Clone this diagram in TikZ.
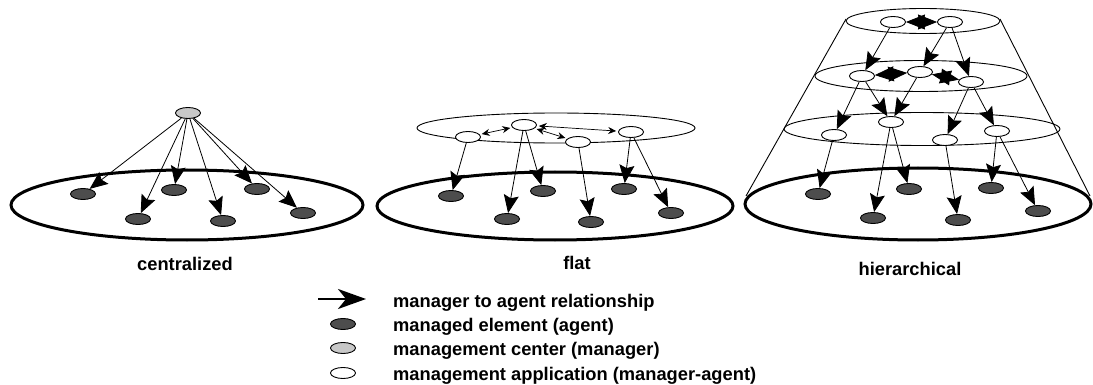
\documentclass[tikz,border=0pt]{standalone}
\usepackage{fontspec}
\setmainfont{Liberation Sans}
\usetikzlibrary{arrows.meta,shapes.geometric}
\definecolor{agentfill}{RGB}{77,77,77}
\definecolor{mgrfill}{RGB}{200,200,200}
\begin{document}
\begin{tikzpicture}[x=1pt,y=-1pt,
  elem/.style={ellipse,draw,line width=0.9pt,minimum width=25pt,minimum height=11pt,inner sep=0pt},
  agent/.style={elem,fill=agentfill},
  manager/.style={elem,fill=mgrfill},
  mapp/.style={elem,fill=white},
  rel/.style={line width=0.8pt,-{Stealth[length=18pt,width=15pt,inset=3pt]}},
  peer/.style={line width=0.7pt,{Stealth[length=8pt,width=7pt]}-{Stealth[length=8pt,width=7pt]},shorten <=2pt,shorten >=2pt},
  bigpeer/.style={line width=0.8pt,{Stealth[length=19pt,width=15pt,inset=1pt]}-{Stealth[length=19pt,width=15pt,inset=1pt]}},
  mdomain/.style={line width=3pt},
  mlayer/.style={line width=0.9pt},
  lbl/.style={font=\fontsize{18.3}{20}\selectfont\bfseries,inner sep=0pt}
]
\useasboundingbox (0,0) rectangle (1093,385);

% ---------- centralized ----------
\draw[mdomain] (187,205) ellipse [x radius=176pt, y radius=35pt];
\node[manager] (cm) at (188,113) {};
\node[agent] (c1) at (83,194) {};
\node[agent] (c2) at (138,219) {};
\node[agent] (c3) at (174,190) {};
\node[agent] (c4) at (223,221) {};
\node[agent] (c5) at (257,189) {};
\node[agent] (c6) at (303,213) {};
\foreach \a in {c1,c2,c3,c4,c5,c6} \draw[rel] (cm) -- (\a);
\node[lbl,anchor=base] (lc) at (185,270) {centralized};

% ---------- flat ----------
\draw[mdomain] (555,206) ellipse [x radius=178pt, y radius=34pt];
\draw[mlayer] (556,128) ellipse [x radius=139pt, y radius=15pt];
\node[mapp] (m1) at (468,137) {};
\node[mapp] (m2) at (524,125) {};
\node[mapp] (m3) at (578,142) {};
\node[mapp] (m4) at (631,132) {};
\node[agent] (f1) at (451,196) {};
\node[agent] (f2) at (507,219) {};
\node[agent] (f3) at (543,191) {};
\node[agent] (f4) at (591,222) {};
\node[agent] (f5) at (624,189) {};
\node[agent] (f6) at (671,213) {};
\draw[rel] (m1) -- (f1);
\draw[rel] (m2) -- (f2);
\draw[rel] (m2) -- (f3);
\draw[rel] (m3) -- (f4);
\draw[rel] (m4) -- (f5);
\draw[rel] (m4) -- (f6);
\draw[peer] (m1) -- (m2);
\draw[peer] (m2) -- (m3);
\draw[peer] (m2) -- (m4);
\node[lbl,anchor=base] (lf) at (577,269) {flat};

% ---------- hierarchical ----------
\draw[mlayer] (846,19) -- (746,196);
\draw[mlayer] (1000,19) -- (1090,196);
\draw[mlayer] (923,21) ellipse [x radius=77pt, y radius=12.5pt];
\draw[mlayer] (921,76) ellipse [x radius=106pt, y radius=15.5pt];
\draw[mlayer] (922,129) ellipse [x radius=138pt, y radius=16.5pt];
\draw[mdomain] (918,204) ellipse [x radius=173pt, y radius=36pt];
\node[mapp] (t1) at (893,22) {};
\node[mapp] (t2) at (950,22) {};
\node[mapp] (n1) at (862,76) {};
\node[mapp] (n2) at (920,72) {};
\node[mapp] (n3) at (971,82) {};
\node[mapp] (l1) at (834,135) {};
\node[mapp] (l2) at (891,122) {};
\node[mapp] (l3) at (945,140) {};
\node[mapp] (l4) at (997,131) {};
\node[agent] (h1) at (818,194) {};
\node[agent] (h2) at (873,218) {};
\node[agent] (h3) at (909,189) {};
\node[agent] (h4) at (958,220) {};
\node[agent] (h5) at (991,188) {};
\node[agent] (h6) at (1038,211) {};
\draw[bigpeer] (t1) -- (t2);
\draw[bigpeer] (n1) -- (n2);
\draw[bigpeer] (n2) -- (n3);
\draw[rel] (t1) -- (n1);
\draw[rel] (t2) -- (n2);
\draw[rel] (t2) -- (n3);
\draw[rel] (n1) -- (l1);
\draw[rel] (n1) -- (l2);
\draw[rel] (n2) -- (l2);
\draw[rel] (n3) -- (l3);
\draw[rel] (n3) -- (l4);
\draw[rel] (l1) -- (h1);
\draw[rel] (l2) -- (h2);
\draw[rel] (l2) -- (h3);
\draw[rel] (l3) -- (h4);
\draw[rel] (l4) -- (h5);
\draw[rel] (l4) -- (h6);
\node[lbl,anchor=base] (lh) at (910,275) {hierarchical};

% ---------- legend ----------
\coordinate (ka) at (318,299);
\coordinate (kb) at (366,299);
\draw[line width=2.5pt,-{Stealth[length=28pt,width=20pt,inset=8pt]}] (ka) -- (kb);
\node[agent] (ke) at (343,324) {};
\node[manager] (km) at (343,348) {};
\node[mapp] (kp) at (343,373) {};
\node[lbl,anchor=base west] (t-a) at (393,307) {manager to agent relationship};
\node[lbl,anchor=base west] (t-b) at (393,331) {managed element (agent)};
\node[lbl,anchor=base west] (t-c) at (393,355) {management center (manager)};
\node[lbl,anchor=base west] (t-d) at (393,380) {management application (manager-agent)};
\end{tikzpicture}
\end{document}
